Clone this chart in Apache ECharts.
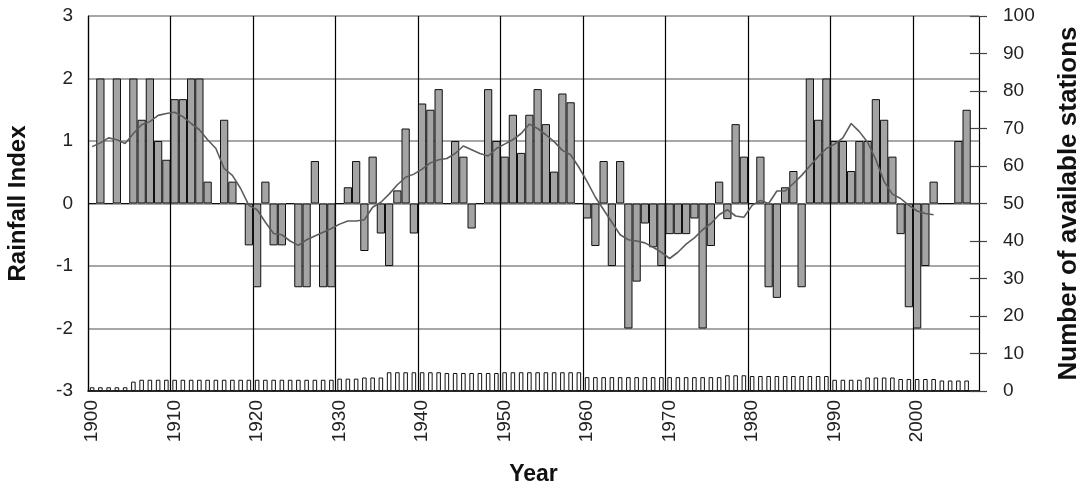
<!DOCTYPE html>
<html>
<head>
<meta charset="utf-8">
<script src="https://cdn.jsdelivr.net/npm/echarts/dist/echarts.min.js"></script>
<style>
html,body{margin:0;padding:0;background:#fff;}
#chart{width:1083px;height:486px;}
</style>
</head>
<body>
<div id="chart"></div>
<script>
// Years 1900-2007 (2007 is an empty slot at the right edge of the plot)
var years = [];
for (var y = 1900; y <= 2007; y++) years.push(String(y));

// Rainfall index per year (1900-2006)
var rainfallIndex = [
  0, 2.0, 0, 2.0, 0, 2.0, 1.34, 2.0, 1.0, 0.7,
  1.67, 1.67, 2.0, 2.0, 0.35, 0, 1.34, 0.35, 0, -0.67,
  -1.34, 0.35, -0.67, -0.67, 0, -1.34, -1.34, 0.68, -1.34, -1.34,
  0, 0.26, 0.68, -0.76, 0.75, -0.48, -1.0, 0.21, 1.2, -0.48,
  1.6, 1.5, 1.83, 0, 1.0, 0.75, -0.4, 0, 1.83, 1.0,
  0.75, 1.42, 0.81, 1.42, 1.83, 1.27, 0.51, 1.76, 1.62, 0,
  -0.24, -0.68, 0.68, -1.0, 0.68, -2.0, -1.25, -0.32, -0.7, -1.0,
  -0.49, -0.49, -0.49, -0.24, -2.0, -0.68, 0.35, -0.25, 1.27, 0.75,
  0, 0.75, -1.34, -1.51, 0.26, 0.52, -1.34, 2.0, 1.34, 2.0,
  1.0, 1.0, 0.52, 1.0, 1.0, 1.67, 1.34, 0.75, -0.49, -1.66,
  -2.0, -1.0, 0.35, 0, 0, 1.0, 1.5,
  null
];

// Smoothed (moving average) rainfall index, 1900-2002
var movingAverage = [
  0.91, 0.97, 1.05, 1.02, 0.96, 1.12, 1.26, 1.31, 1.41, 1.44,
  1.46, 1.39, 1.28, 1.18, 1.02, 0.88, 0.56, 0.45, 0.24, -0.03,
  -0.1, -0.3, -0.48, -0.5, -0.6, -0.67, -0.58, -0.52, -0.46, -0.4,
  -0.33, -0.28, -0.28, -0.26, -0.06, 0.02, 0.15, 0.3, 0.42, 0.47,
  0.55, 0.65, 0.7, 0.72, 0.8, 0.92, 0.86, 0.8, 0.76, 0.88,
  0.95, 1.02, 1.12, 1.27, 1.2, 1.1, 0.99, 0.85, 0.78, 0.58,
  0.35, 0.1, -0.1, -0.3, -0.5, -0.58, -0.6, -0.63, -0.7, -0.78,
  -0.88, -0.78, -0.65, -0.55, -0.42, -0.32, -0.18, -0.1, -0.2, -0.22,
  -0.03, 0.05, 0.0, 0.2, 0.2, 0.32, 0.45, 0.6, 0.75, 0.88,
  0.95, 1.05, 1.28, 1.15, 0.98, 0.7, 0.35, 0.15, 0.08, -0.03,
  -0.12, -0.16, -0.18, null, null, null, null,
  null
];

// Number of available stations per year (1900-2006)
var stations = [
  1, 1, 1, 1, 1, 2.5, 3, 3, 3, 3,
  3, 3, 3, 3, 3, 3, 3, 3, 3, 3,
  3, 3, 3, 3, 3, 3, 3, 3, 3, 3,
  3.3, 3.3, 3.3, 3.6, 3.6, 3.6, 5, 5, 5, 5,
  5, 5, 5, 4.8, 4.8, 4.8, 4.8, 4.8, 4.8, 4.8,
  5, 5, 5, 5, 5, 5, 5, 5, 5, 5,
  3.7, 3.7, 3.7, 3.7, 3.7, 3.7, 3.7, 3.7, 3.7, 3.7,
  3.7, 3.7, 3.7, 3.7, 3.7, 3.7, 3.7, 4.2, 4.2, 4.2,
  4, 4, 4, 4, 4, 4, 4, 4, 4, 4,
  3, 3, 3, 3, 3.6, 3.6, 3.6, 3.6, 3.2, 3.2,
  3.2, 3.2, 3.2, 2.8, 2.8, 2.8, 2.8,
  null
];

var leftTicks = { min: -3, max: 3, interval: 1 };
var rightTicks = { min: 0, max: 100, interval: 10 };

var FONT = 'Liberation Sans, Arial, sans-serif';

var chart = echarts.init(document.getElementById('chart'), null, { renderer: 'canvas' });
chart.setOption({
  animation: false,
  backgroundColor: '#fff',
  grid: { left: 88, right: 104, top: 16, bottom: 95, containLabel: false, outerBoundsMode: 'none' },
  xAxis: [
    {
      type: 'category',
      data: years,
      boundaryGap: true,
      name: 'Year',
      nameLocation: 'middle',
      nameGap: 72,
      nameTextStyle: { fontFamily: FONT, fontSize: 23, fontWeight: 'bold', color: '#111' },
      axisLine: { show: true, onZero: false, lineStyle: { color: '#000', width: 1.5 } },
      axisTick: { show: false },
      axisLabel: {
        interval: function (index) { return index % 10 === 0; },
        rotate: 90,
        margin: 9,
        fontFamily: FONT,
        fontSize: 19,
        color: '#222'
      },
      splitLine: {
        show: true,
        interval: function (index) { return index % 10 === 0; },
        lineStyle: { color: '#000', width: 1.2 }
      }
    },
    {
      type: 'category',
      data: years,
      boundaryGap: true,
      show: false
    }
  ],
  yAxis: [
    {
      type: 'value',
      position: 'left',
      min: leftTicks.min, max: leftTicks.max, interval: leftTicks.interval,
      name: 'Rainfall Index',
      nameLocation: 'middle',
      nameGap: 58,
      nameTextStyle: { fontFamily: FONT, fontSize: 24, fontWeight: 'bold', color: '#111' },
      axisLine: { show: true, lineStyle: { color: '#000', width: 1.2 } },
      axisTick: { show: false },
      axisLabel: { margin: 15, fontFamily: FONT, fontSize: 19, color: '#222' },
      splitLine: { show: true, lineStyle: { color: '#8a8a8a', width: 1.6 } }
    },
    {
      type: 'value',
      position: 'right',
      min: rightTicks.min, max: rightTicks.max, interval: rightTicks.interval,
      name: 'Number of available stations',
      nameLocation: 'middle',
      nameGap: 77,
      nameTextStyle: { fontFamily: FONT, fontSize: 26, fontWeight: 'bold', color: '#111' },
      axisLine: { show: false },
      axisTick: { show: true, inside: false, length: 8, lineStyle: { color: '#444', width: 1.2 } },
      axisLabel: { margin: 24, fontFamily: FONT, fontSize: 19, color: '#222', align: 'left' },
      splitLine: { show: false }
    },
    {
      type: 'value',
      position: 'right',
      offset: 0,
      min: rightTicks.min, max: rightTicks.max, interval: rightTicks.interval,
      axisLine: { show: false },
      axisTick: { show: true, inside: true, length: 9, lineStyle: { color: '#444', width: 1.2 } },
      axisLabel: { show: false },
      splitLine: { show: false }
    }
  ],
  series: [
    {
      name: 'Rainfall Index',
      type: 'bar',
      xAxisIndex: 0,
      yAxisIndex: 0,
      data: rainfallIndex,
      barCategoryGap: '0%',
      itemStyle: { color: '#a4a4a4', borderColor: '#111', borderWidth: 1 },
      z: 2
    },
    {
      name: 'Moving average',
      type: 'line',
      xAxisIndex: 0,
      yAxisIndex: 0,
      data: movingAverage,
      symbol: 'none',
      connectNulls: false,
      lineStyle: { color: '#5c5c5c', width: 1.6 },
      z: 5
    },
    {
      name: 'Number of available stations',
      type: 'bar',
      xAxisIndex: 1,
      yAxisIndex: 1,
      data: stations,
      barWidth: '55%',
      itemStyle: { color: '#fff', borderColor: '#111', borderWidth: 1 },
      z: 3
    }
  ]
});
</script>
</body>
</html>
